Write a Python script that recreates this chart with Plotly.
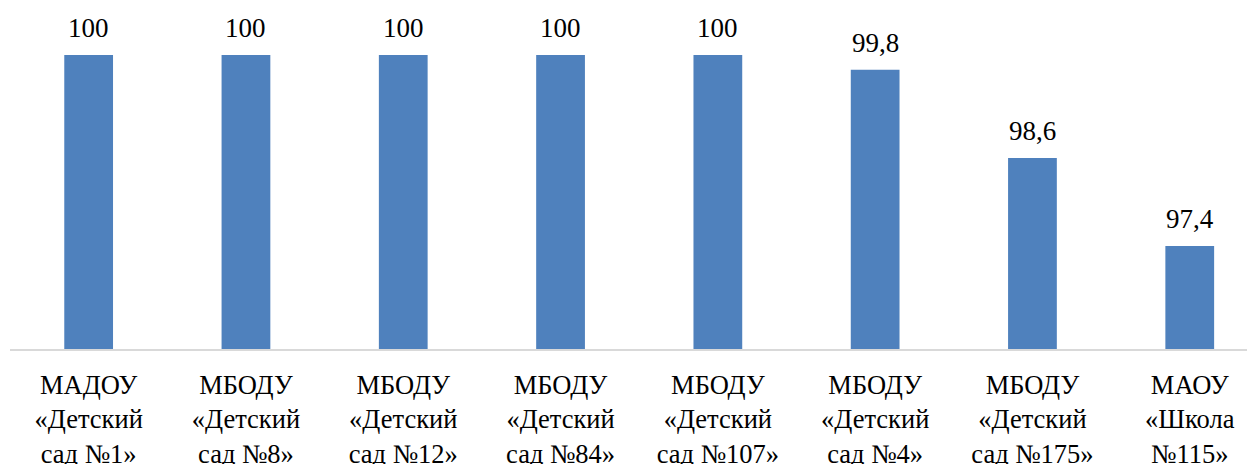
import plotly.graph_objects as go

categories = [
    "МАДОУ<br>«Детский<br>сад №1»",
    "МБОДУ<br>«Детский<br>сад №8»",
    "МБОДУ<br>«Детский<br>сад №12»",
    "МБОДУ<br>«Детский<br>сад №84»",
    "МБОДУ<br>«Детский<br>сад №107»",
    "МБОДУ<br>«Детский<br>сад №4»",
    "МБОДУ<br>«Детский<br>сад №175»",
    "МАОУ<br>«Школа<br>№115»",
]
values = [100, 100, 100, 100, 100, 99.8, 98.6, 97.4]
value_labels = ["100", "100", "100", "100", "100", "99,8", "98,6", "97,4"]

FONT = "'Liberation Serif', 'DejaVu Serif', serif"

fig = go.Figure()
fig.add_trace(go.Bar(
    x=list(range(len(categories))),
    y=values,
    marker=dict(color="#4f81bd", line=dict(width=0)),
    width=0.31,
))

for i, (v, lab) in enumerate(zip(values, value_labels)):
    fig.add_annotation(
        x=i, y=v, text=lab, showarrow=False,
        yanchor="bottom", yshift=10,
        font=dict(family=FONT, size=27, color="black"),
    )

fig.update_layout(
    width=1247, height=456,
    margin=dict(l=2, r=0, t=10, b=115, autoexpand=False),
    paper_bgcolor="white", plot_bgcolor="white",
    showlegend=False,
    font=dict(family=FONT, size=27, color="black"),
    xaxis=dict(
        tickmode="array",
        tickvals=list(range(len(categories))),
        ticktext=categories,
        range=[-0.5, -0.5 + 1245 / 157.3],
        showline=True, linecolor="#d9d9d9", linewidth=2,
        showgrid=False, ticks="", zeroline=False,
        tickfont=dict(family=FONT, size=26.5, color="black"),
        ticklabelstandoff=11,
        automargin=False,
    ),
    yaxis=dict(
        range=[96, 96 + 331 / 73.5],
        visible=False, showgrid=False, zeroline=False,
        automargin=False,
    ),
)

fig.write_html("out.html")
